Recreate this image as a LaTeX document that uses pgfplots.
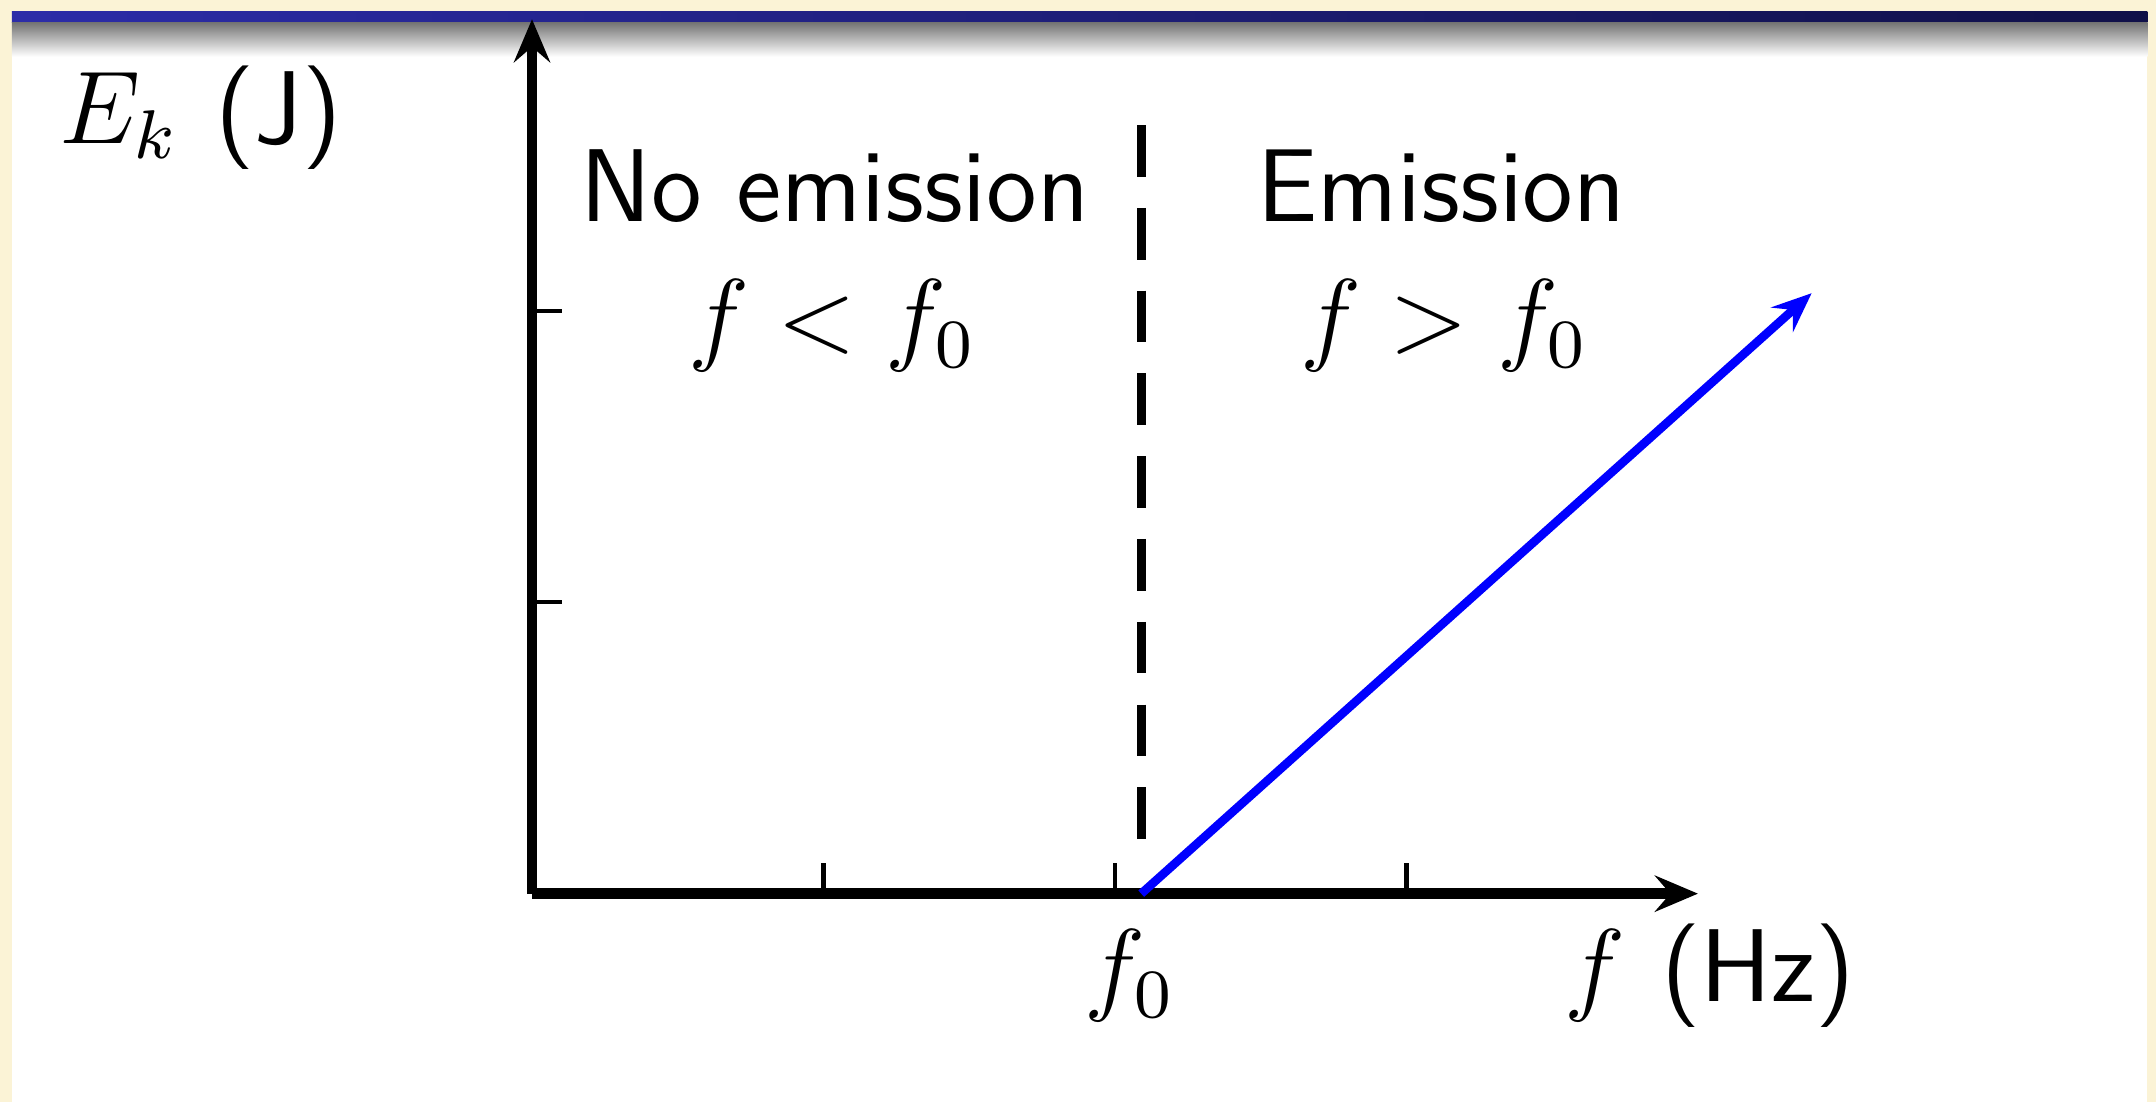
\RequirePackage{fix-cm}
\documentclass[border=0pt]{standalone}
\usepackage{pgfplots}
\pgfplotsset{compat=1.18}
\usetikzlibrary{arrows.meta}

\definecolor{cream}{RGB}{251,243,214}
\definecolor{barleft}{RGB}{44,44,168}
\definecolor{barright}{RGB}{16,16,72}
\definecolor{lineblue}{RGB}{0,0,255}

\newcommand{\lbl}{\fontsize{12}{14.4}\selectfont\sffamily}

\begin{document}
\begin{tikzpicture}[x=1pt,y=1pt]
  % slide frame: cream margin, white body, title bar and its shadow
  \fill[cream] (0,0) rectangle (250,127.78);
  \fill[white] (1.39,0) rectangle (249.0,126.5);
  \shade[left color=barleft, right color=barright] (1.39,125.2) rectangle (249.0,126.5);
  \shade[top color=black!55, bottom color=white] (1.39,121.2) rectangle (249.0,125.2);

  \begin{axis}[
    at={(61.69pt,24.15pt)}, anchor=south west,
    scale only axis, width=135.2pt, height=101.4pt,
    xmin=0, xmax=4, ymin=0, ymax=3,
    axis lines=left,
    axis line style={line width=1.2pt,
      -{Stealth[length=5pt, width=4.2pt, inset=1.8pt]}},
    xtick={1,2,3}, ytick={1,2},
    xticklabels={,,}, yticklabels={,},
    tick align=inside, major tick length=3.5pt,
    tick style={line width=0.5pt, black},
    clip=false,
  ]
    % threshold frequency
    \addplot[black, line width=1pt, dash pattern=on 6pt off 3.6pt]
      coordinates {(2.09,2.637) (2.09,0.15)};
    % kinetic energy above threshold
    \addplot[lineblue, line width=1pt,
      -{Stealth[length=4.6pt, width=3.8pt, inset=1.7pt]}]
      coordinates {(2.09,0) (4.39,2.06)};

    \node[anchor=base west, inner sep=0pt] at (axis cs:-1.626,2.575)
      {\lbl $E_k$\hspace{0.35em}(J)};
    \node[anchor=base, inner sep=0pt] at (axis cs:4.04,-0.371)
      {\lbl $f$\hspace{0.35em}(Hz)};
    \node[anchor=base, inner sep=0pt] at (axis cs:2.05,-0.371)
      {\lbl $f_0$};

    \node[anchor=base, inner sep=0pt] at (axis cs:1.04,2.305) {\lbl No emission};
    \node[anchor=base, inner sep=0pt] at (axis cs:1.03,1.86) {\lbl $f < f_0$};
    \node[anchor=base, inner sep=0pt] at (axis cs:3.12,2.305) {\lbl Emission};
    \node[anchor=base, inner sep=0pt] at (axis cs:3.13,1.86) {\lbl $f > f_0$};
  \end{axis}
\end{tikzpicture}
\end{document}
